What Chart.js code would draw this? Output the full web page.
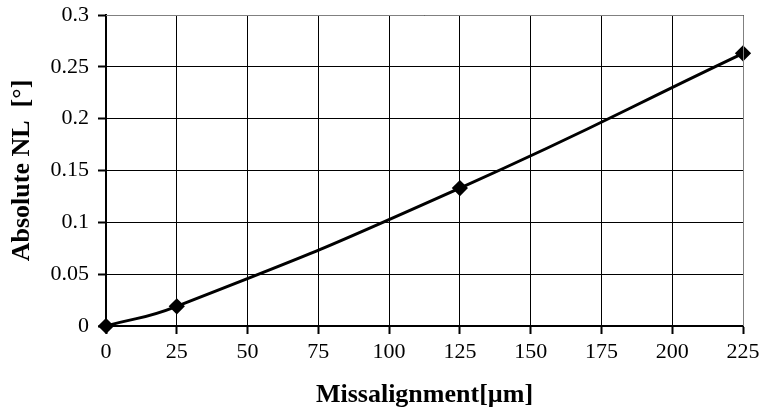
<!DOCTYPE html>
<html>
<head>
<meta charset="utf-8">
<script src="https://cdn.jsdelivr.net/npm/chart.js@4/dist/chart.umd.min.js"></script>
<style>
  html, body { margin: 0; padding: 0; background: #fff; }
  #wrap { width: 762px; height: 416px; }
</style>
</head>
<body>
<div id="wrap"><canvas id="chartNL"></canvas></div>
<script>
  // Misalignment sweep (µm) vs absolute nonlinearity (°)
  const missalignment = [0, 25, 125, 225];
  const absoluteNL    = [0, 0.019, 0.133, 0.263];
  const xTicks = [0, 25, 50, 75, 100, 125, 150, 175, 200, 225];
  const yTicks = [0, 0.05, 0.1, 0.15, 0.2, 0.25, 0.3];

  const serif = "'Liberation Serif', 'Times New Roman', serif";
  const points = missalignment.map((x, i) => ({ x, y: absoluteNL[i] }));

  new Chart(document.getElementById('chartNL'), {
    type: 'scatter',
    data: {
      datasets: [{
        data: points,
        showLine: true,
        tension: 0.5,
        borderColor: '#000',
        borderWidth: 3,
        pointStyle: 'rectRot',
        pointRadius: 6,
        pointBackgroundColor: '#000',
        pointBorderColor: '#000',
        clip: false
      }]
    },
    options: {
      responsive: true,
      maintainAspectRatio: false,
      animation: false,
      layout: { padding: { top: 15, right: 19, left: 0, bottom: 0 } },
      plugins: { legend: { display: false }, tooltip: { enabled: false } },
      scales: {
        x: {
          type: 'linear',
          min: xTicks[0], max: xTicks[xTicks.length - 1],
          afterFit: s => { s.height = 90; s.paddingLeft = 0; s.paddingRight = 0; },
          afterBuildTicks: s => { s.ticks = xTicks.map(v => ({ value: v })); },
          border: { color: '#000', width: 2 },
          grid: { color: '#000', lineWidth: 1, tickLength: 8, tickColor: '#000', tickWidth: 2 },
          ticks: { color: '#000', font: { family: serif, size: 22 }, padding: 5, maxRotation: 0 },
          title: {
            display: true, text: 'Missalignment[µm]', color: '#000',
            font: { family: serif, size: 26, weight: 'bold' }, padding: { top: 0, bottom: 5 }
          }
        },
        y: {
          min: yTicks[0], max: yTicks[yTicks.length - 1],
          afterFit: s => { s.width = 106; s.paddingTop = 0; s.paddingBottom = 0; },
          afterBuildTicks: s => { s.ticks = yTicks.map(v => ({ value: v })); },
          border: { color: '#000', width: 2 },
          grid: { color: '#000', lineWidth: 1, tickLength: 8, tickColor: '#000', tickWidth: 2 },
          ticks: { color: '#000', font: { family: serif, size: 22 }, padding: 9, callback: v => String(v) },
          title: {
            display: true, text: 'Absolute NL  [°]', color: '#000',
            font: { family: serif, size: 26, weight: 'bold' }, padding: { top: 7, bottom: 0 }
          }
        }
      }
    },
    plugins: [{
      // grey frame along the top and right edges of the plot area
      id: 'frame',
      afterDraw(chart) {
        const { ctx, chartArea: a } = chart;
        ctx.save();
        ctx.strokeStyle = '#808080';
        ctx.lineWidth = 1;
        ctx.beginPath();
        ctx.moveTo(a.left, a.top + 0.5);
        ctx.lineTo(a.right + 0.5, a.top + 0.5);
        ctx.lineTo(a.right + 0.5, a.bottom);
        ctx.stroke();
        ctx.restore();
      }
    }]
  });
</script>
</body>
</html>
